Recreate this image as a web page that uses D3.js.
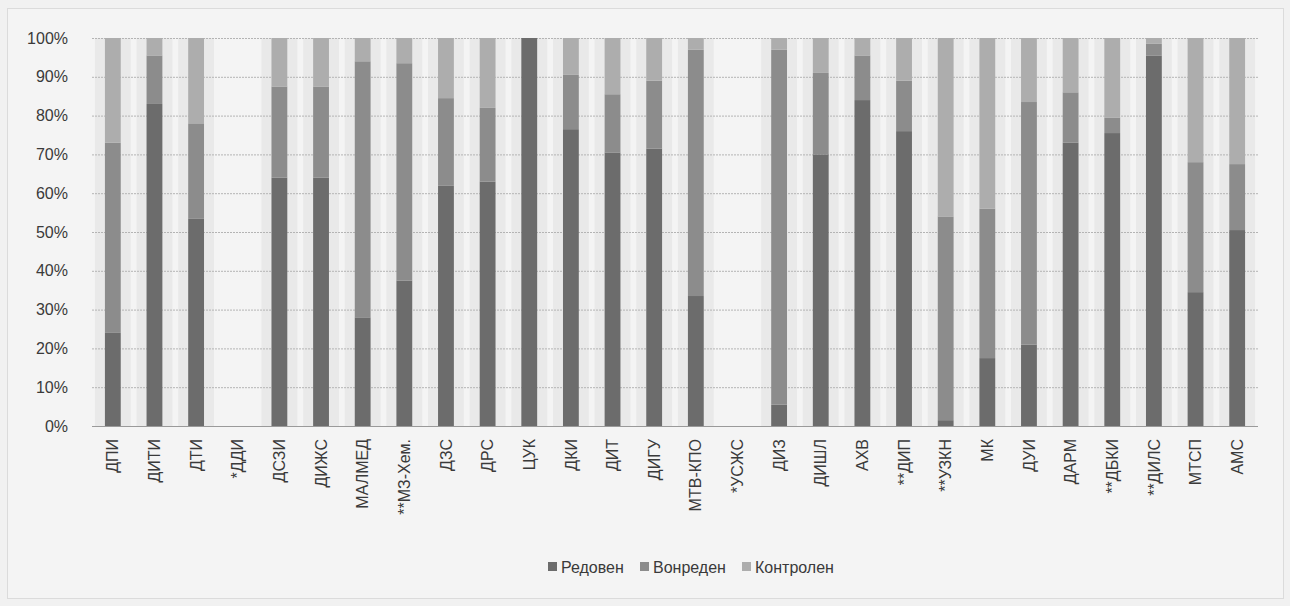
<html>
  <head>
    <title>Stacked 100% chart</title>
    <script src="https://d3js.org/d3.v7.min.js"></script>
    <style>
      body {
        margin: 0;
        background-color: #f1f1f1;
        font-family: "Liberation Sans Narrow", "Liberation Sans", sans-serif;
      }
      svg text {
        fill: #3a3a3a;
      }
    </style>
  </head>
  <body>
    <svg width="1290" height="606"></svg>

    <script>
      // data (percent of each unit)
      var categories = ["ДПИ", "ДИТИ", "ДТИ", "*ДДИ", "ДСЗИ", "ДИЖС", "МАЛМЕД", "**МЗ-Хем.", "ДЗС", "ДРС",
        "ЦУК", "ДКИ", "ДИТ", "ДИГУ", "МТВ-КПО", "*УСЖС", "ДИЗ", "ДИШЛ", "АХВ", "**ДИП",
        "**УЗКН", "МК", "ДУИ", "ДАРМ", "**ДБКИ", "**ДИЛС", "МТСП", "АМС"];
      var redoven   = [24, 83, 53.5, 0, 64, 64, 28, 37.5, 62, 63, 100, 76.5, 70.5, 71.5, 33.5, 0, 5.5, 70, 84, 76, 1.5, 17.5, 21, 73, 75.5, 95.5, 34.5, 50.5];
      var vonreden  = [49, 12.5, 24.5, 0, 23.5, 23.5, 66, 56, 22.5, 19, 0, 14, 15, 17.5, 63.5, 0, 91.5, 21, 11.5, 13, 52.5, 38.5, 62.5, 13, 4, 3, 33.5, 17];
      var kontrolen = [27, 4.5, 22, 0, 12.5, 12.5, 6, 6.5, 15.5, 18, 0, 9.5, 14.5, 11, 3, 0, 3, 9, 4.5, 11, 46, 44, 16.5, 14, 20.5, 1.5, 32, 32.5];
      var seriesNames = ["Редовен", "Вонреден", "Контролен"];
      var yTicks = [0, 10, 20, 30, 40, 50, 60, 70, 80, 90, 100];

      var colors = ["#6c6c6c", "#8c8c8c", "#adadad"];

      var svg = d3.select("svg");

      // chart frame (dotted, like the scanned excel border)
      svg.append("rect")
        .attr("x", 7.5).attr("y", 8.5)
        .attr("width", 1276).attr("height", 590)
        .attr("fill", "#f4f4f4")
        .attr("stroke", "#c4c4c4")
        .attr("stroke-dasharray", "1,1");

      var rows = categories.map(function(c, i){
        return {cat: c, "Редовен": redoven[i], "Вонреден": vonreden[i], "Контролен": kontrolen[i]};
      });

      var x = d3.scaleBand()
        .domain(categories)
        .range([92, 1258])
        .paddingInner(0.62)
        .paddingOuter(0.31);

      var y = d3.scaleLinear()
        .domain([0, 100])
        .range([426, 38]);

      // faint grey halo the scan leaves around each printed bar
      svg.append("g")
        .selectAll("rect")
        .data(rows.filter(function(r){ return r["Редовен"] + r["Вонреден"] + r["Контролен"] > 0; }))
        .join("rect")
        .attr("x", function(d){ return x(d.cat) - 10; })
        .attr("width", x.bandwidth() + 20)
        .attr("y", y(100))
        .attr("height", y(0) - y(100))
        .attr("fill", "#dadada")
        .attr("opacity", 0.4);

      // gridlines
      svg.append("g")
        .selectAll("line")
        .data(yTicks)
        .join("line")
        .attr("x1", 92).attr("x2", 1258)
        .attr("y1", function(d){ return y(d) + 0.5; })
        .attr("y2", function(d){ return y(d) + 0.5; })
        .attr("stroke", function(d){ return d === 0 ? "#9a9a9a" : "#b4b4b4"; })
        .attr("stroke-dasharray", function(d){ return d === 0 ? null : "2,1"; });

      // y axis labels
      var yAxis = d3.axisLeft(y)
        .tickValues(yTicks)
        .tickSize(0)
        .tickPadding(0)
        .tickFormat(function(d){ return d + "%"; });

      svg.append("g")
        .attr("transform", "translate(68,0)")
        .call(yAxis)
        .call(function(g){ g.select(".domain").remove(); })
        .selectAll("text")
        .attr("font-size", 16)
        .attr("font-family", "inherit")
        .style("fill", "#3a3a3a");

      // stacked bars
      var stack = d3.stack().keys(seriesNames);
      var layers = stack(rows);

      svg.append("g")
        .selectAll("g")
        .data(layers)
        .join("g")
        .attr("fill", function(d, i){ return colors[i]; })
        .selectAll("rect")
        .data(function(d){ return d; })
        .join("rect")
        .attr("x", function(d){ return x(d.data.cat); })
        .attr("width", x.bandwidth())
        .attr("y", function(d){ return y(d[1]); })
        .attr("height", function(d){ return Math.max(0, y(d[0]) - y(d[1])); });

      // x axis labels, rotated
      var xAxis = d3.axisBottom(x).tickSize(0).tickPadding(0);

      svg.append("g")
        .attr("transform", "translate(0,426)")
        .call(xAxis)
        .call(function(g){ g.select(".domain").remove(); })
        .selectAll("text")
        .attr("font-size", 16)
        .attr("font-family", "inherit")
        .style("fill", "#3a3a3a")
        .attr("text-anchor", "end")
        .attr("dy", "0.35em")
        .attr("transform", "translate(0,13) rotate(-90)")
        .attr("x", 0)
        .attr("y", 0);

      // legend
      var legend = svg.append("g").attr("transform", "translate(548,567)");
      var offs = [0, 92, 194];
      seriesNames.forEach(function(name, i){
        var item = legend.append("g").attr("transform", "translate(" + offs[i] + ",0)");
        item.append("rect")
          .attr("x", 0).attr("y", -5)
          .attr("width", 9).attr("height", 9)
          .attr("fill", colors[i]);
        item.append("text")
          .attr("x", 13).attr("y", 0)
          .attr("dy", "0.35em")
          .attr("font-size", 16)
          .text(name);
      });
    </script>
  </body>
</html>
